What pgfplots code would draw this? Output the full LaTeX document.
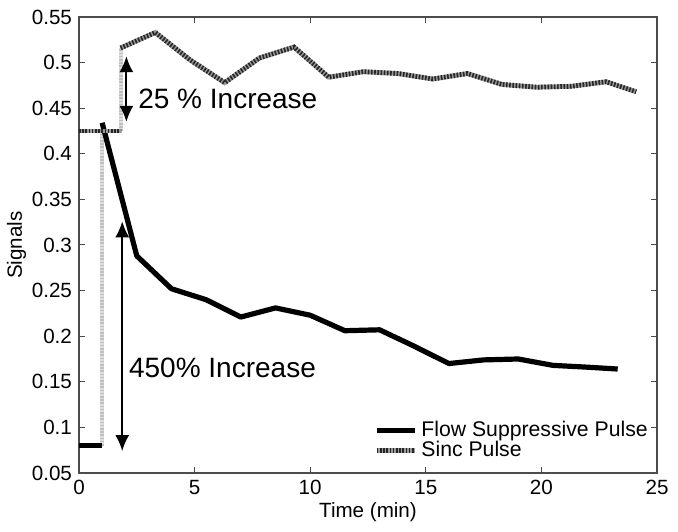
\documentclass[border=0pt]{standalone}
\usepackage{fontspec}
\setmainfont{Liberation Sans}
\usepackage{pgfplots}
\pgfplotsset{compat=1.18}
\usetikzlibrary{arrows.meta}
\begin{document}
\begin{tikzpicture}
\begin{axis}[
  scale only axis,
  width=289pt, height=228pt,
  xmin=0, xmax=25, ymin=0.05, ymax=0.55,
  xtick={0,5,...,25},
  ytick={0.05,0.1,0.15,0.2,0.25,0.3,0.35,0.4,0.45,0.5,0.55},
  scaled y ticks=false,
  yticklabel style={/pgf/number format/fixed, /pgf/number format/precision=2},
  /pgf/number format/assume math mode=true,
  tick label style={font=\fontsize{10.3}{12}\selectfont},
  label style={font=\fontsize{10.3}{12}\selectfont},
  xlabel={Time (min)},
  ylabel={Signals},
  xlabel style={yshift=3pt},
  ylabel style={yshift=-4pt},
  tick align=inside,
  major tick length=3pt,
  axis line style={black!70, line width=0.6pt},
  every tick/.style={black!70, line width=0.5pt},
  legend style={at={(rel axis cs:0.995,0.015)}, anchor=south east, draw=none, fill=none,
    font=\fontsize{10.6}{11}\selectfont, row sep=-3pt, inner sep=1pt},
  legend cell align=left,
  legend image code/.code={\draw[#1] (0pt,0pt) -- (19pt,0pt);},
  sinc/.style={draw=black!85, line width=2.4pt, dash pattern=on 0.8pt off 0.8pt,
    preaction={draw=gray!80, line width=2.4pt, solid}},
  vstep/.style={draw=gray!50, line width=2pt, dash pattern=on 0.8pt off 0.8pt,
    preaction={draw=gray!25, line width=2pt, solid}},
]
% vertical step segments
\addplot[vstep, forget plot] coordinates {(1.0,0.080) (1.0,0.425)};
\addplot[vstep, forget plot] coordinates {(1.8,0.425) (1.8,0.516)};
% Flow suppressive pulse
\addplot[black, line width=2.6pt, forget plot] coordinates {(0,0.080) (1.0,0.080)};
\addplot[black, line width=2.6pt, line join=round] coordinates {
(1.0,0.434) (2.5,0.288) (4.0,0.252) (5.5,0.240) (7.0,0.221) (8.5,0.231)
(10.0,0.223) (11.5,0.206) (13.0,0.207) (14.5,0.189) (16.0,0.170) (17.5,0.174)
(19.0,0.175) (20.5,0.168) (22.0,0.166) (23.3,0.164)};
\addlegendentry{Flow Suppressive Pulse}
% Sinc pulse
\addplot[sinc, forget plot] coordinates {(0,0.425) (1.8,0.425)};
\addplot[sinc] coordinates {
(1.8,0.516) (3.3,0.533) (4.8,0.503) (6.3,0.478) (7.8,0.505) (9.3,0.517)
(10.8,0.484) (12.3,0.490) (13.8,0.488) (15.3,0.482) (16.8,0.488) (18.3,0.476)
(19.8,0.473) (21.3,0.474) (22.8,0.479) (24.1,0.468)};
\addlegendentry{Sinc Pulse}
% annotations
\draw[line width=1pt, {Latex[length=8pt,width=7pt]}-{Latex[length=8pt,width=7pt]}]
  (axis cs:2.05,0.507) -- (axis cs:2.05,0.435);
\node[anchor=west, font=\fontsize{14}{16}\selectfont, inner sep=0pt] at (axis cs:2.55,0.460) {25 \% Increase};
\draw[line width=1pt, {Latex[length=8pt,width=7pt]}-{Latex[length=8pt,width=7pt]}]
  (axis cs:1.87,0.326) -- (axis cs:1.87,0.074);
\node[anchor=west, font=\fontsize{14}{16}\selectfont, inner sep=0pt] at (axis cs:2.15,0.165) {450\% Increase};
\end{axis}
\path ([shift={(-39.5pt,-29.5pt)}]current axis.south west) rectangle ([shift={(10.5pt,8.5pt)}]current axis.north east);
\end{tikzpicture}
\end{document}
